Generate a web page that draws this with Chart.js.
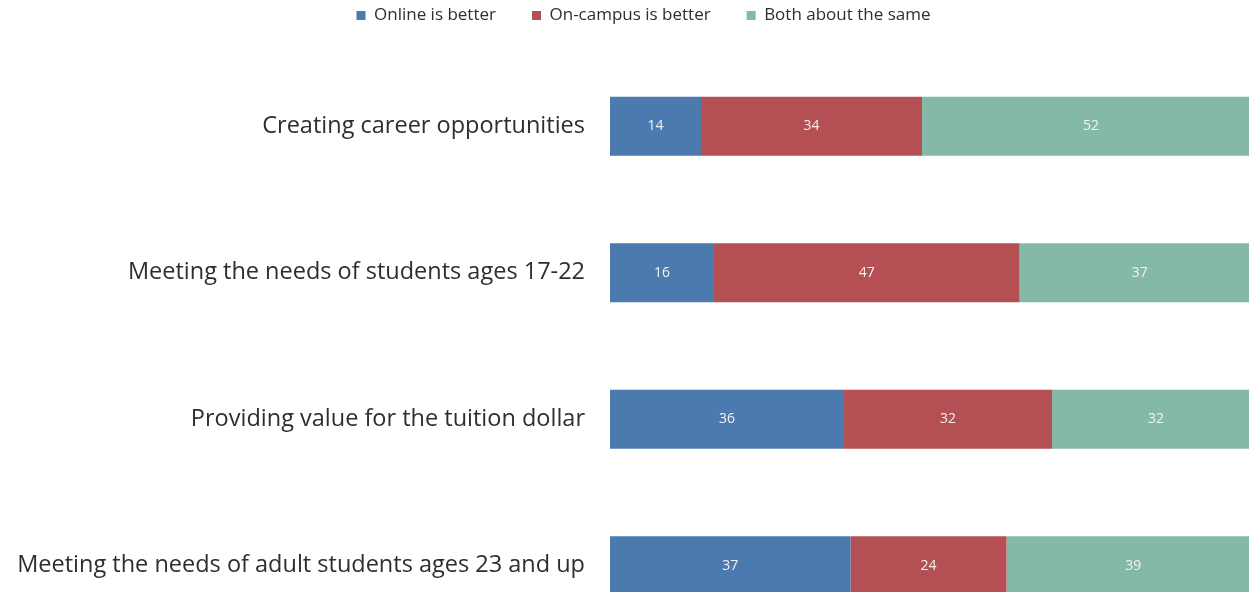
<!DOCTYPE html>
<html>
<head>
<meta charset="utf-8">
<script src="https://cdn.jsdelivr.net/npm/chart.js@4"></script>
<style>
  html, body { margin: 0; padding: 0; background: #fff; overflow: hidden; }
</style>
</head>
<body>
<canvas id="chart" width="1249" height="678"></canvas>
<script>
const categories = [
  'Creating career opportunities',
  'Meeting the needs of students ages 17-22',
  'Providing value for the tuition dollar',
  'Meeting the needs of adult students ages 23 and up'
];
const seriesNames = ['Online is better', 'On-campus is better', 'Both about the same'];
const online = [14, 16, 36, 37];
const onCampus = [34, 47, 32, 24];
const same = [52, 37, 32, 39];
const colors = ['#4a7aae', '#b44f53', '#84b9a7'];

// write the value in the middle of each segment
const segmentLabels = {
  id: 'segmentLabels',
  afterDatasetsDraw(chart) {
    const ctx = chart.ctx;
    ctx.save();
    ctx.font = '14px "Open Sans"';
    ctx.fillStyle = '#f2f2f2';
    ctx.textAlign = 'center';
    ctx.textBaseline = 'middle';
    chart.data.datasets.forEach((ds, i) => {
      chart.getDatasetMeta(i).data.forEach((bar, j) => {
        const x = (bar.x + bar.base) / 2;
        ctx.fillText(ds.data[j], x, bar.y);
      });
    });
    ctx.restore();
  }
};

// legend sits higher and a bit to the right, with a fixed gap under it
const legendTweak = {
  id: 'legendTweak',
  afterInit(chart) {
    const legend = chart.legend;
    const fit = legend.fit;
    legend.fit = function () {
      fit.call(this);
      this.height = 53;
    };
  },
  afterLayout(chart) {
    const legend = chart.legend;
    legend.top -= 29;
    legend.bottom -= 29;
    legend.left += 19;
    legend.right += 19;
  }
};

new Chart(document.getElementById('chart'), {
  type: 'bar',
  data: {
    labels: categories,
    datasets: [
      { label: seriesNames[0], data: online, backgroundColor: colors[0] },
      { label: seriesNames[1], data: onCampus, backgroundColor: colors[1] },
      { label: seriesNames[2], data: same, backgroundColor: colors[2] }
    ]
  },
  options: {
    indexAxis: 'y',
    responsive: false,
    animation: false,
    layout: { padding: { top: 0, right: 0, bottom: 2, left: 0 } },
    datasets: {
      bar: { categoryPercentage: 1, barPercentage: 0.403, borderWidth: 0 }
    },
    scales: {
      x: {
        stacked: true, min: 0, max: 98.3,
        display: false
      },
      y: {
        stacked: true,
        afterFit: (scale) => { scale.width = 610; },
        grid: { display: false, drawTicks: false },
        border: { display: false },
        ticks: {
          color: '#2e2e2e',
          font: { family: 'Open Sans', size: 23.5 },
          padding: 25
        }
      }
    },
    plugins: {
      legend: {
        position: 'top',
        labels: {
          boxWidth: 9, boxHeight: 9,
          color: '#2e2e2e',
          font: { family: 'Open Sans', size: 17 },
          padding: 36
        }
      },
      tooltip: { enabled: false }
    }
  },
  plugins: [segmentLabels, legendTweak]
});
</script>
</body>
</html>
